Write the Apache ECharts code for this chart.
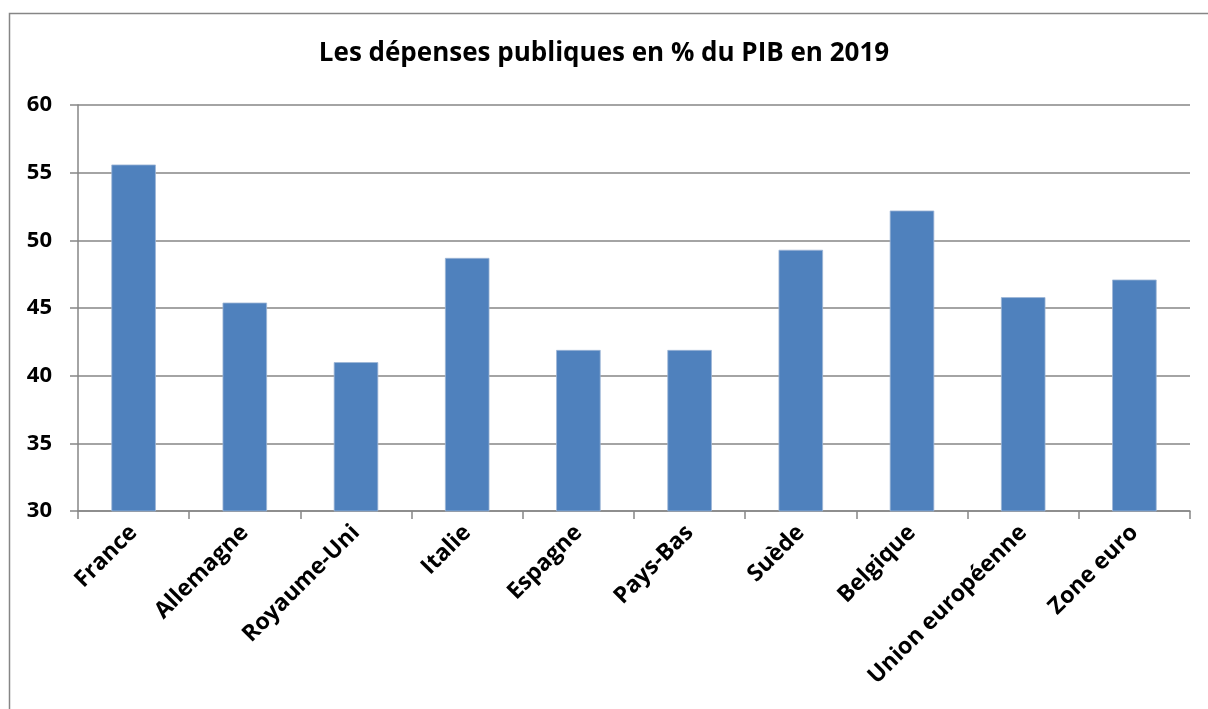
<!DOCTYPE html>
<html>
<head>
<meta charset="utf-8">
<script src="https://cdn.jsdelivr.net/npm/echarts@6/dist/echarts.min.js"></script>
<style>
  html, body { margin: 0; padding: 0; background: #fff; }
  #chart { width: 1208px; height: 709px; }
</style>
</head>
<body>
<div id="chart"></div>
<script>
// données
const categories = ['France', 'Allemagne', 'Royaume-Uni', 'Italie', 'Espagne', 'Pays-Bas', 'Suède', 'Belgique', 'Union européenne', 'Zone euro']
const depenses = [55.6, 45.4, 41.0, 48.7, 41.9, 41.9, 49.3, 52.2, 45.8, 47.1]
const yTicks = [30, 35, 40, 45, 50, 55, 60]

const axisGrey = '#868686'
const font = '"Open Sans", "Liberation Sans", sans-serif'

const chart = echarts.init(document.getElementById('chart'))
chart.setOption({
  animation: false,
  backgroundColor: '#fff',
  title: {
    text: 'Les dépenses publiques en % du PIB en 2019',
    left: 'center',
    top: 36,
    textStyle: { fontFamily: font, fontSize: 26, fontWeight: 'bold', color: '#000' },
  },
  graphic: [
    {
      type: 'rect',
      shape: { x: 9.5, y: 13.5, width: 1300, height: 800 },
      style: { fill: 'none', stroke: axisGrey, lineWidth: 1.5 },
      silent: true,
    },
  ],
  grid: { left: 78, right: 18, top: 105, height: 406, containLabel: false },
  xAxis: {
    type: 'category',
    data: categories,
    axisLine: { show: true, lineStyle: { color: axisGrey, width: 1.5 } },
    axisTick: { show: true, length: 8, lineStyle: { color: axisGrey, width: 1.5 } },
    axisLabel: {
      interval: 0,
      rotate: 45,
      margin: 18,
      fontFamily: font,
      fontSize: 23,
      fontWeight: 'bold',
      color: '#000',
    },
  },
  yAxis: {
    type: 'value',
    min: yTicks[0],
    max: yTicks[yTicks.length - 1],
    interval: 5,
    axisLine: { show: true, lineStyle: { color: axisGrey, width: 1.5 } },
    axisTick: { show: true, inside: false, length: 8, lineStyle: { color: axisGrey, width: 1.5 } },
    splitLine: { show: true, lineStyle: { color: axisGrey, width: 1.5 } },
    axisLabel: {
      margin: 26,
      fontFamily: font,
      fontSize: 22,
      fontWeight: 'bold',
      color: '#000',
    },
  },
  series: [
    {
      type: 'bar',
      data: depenses,
      barWidth: '40%',
      itemStyle: { color: '#4F81BD', borderColor: '#9DB5D6', borderWidth: 0.8 },
    },
  ],
})
</script>
</body>
</html>
